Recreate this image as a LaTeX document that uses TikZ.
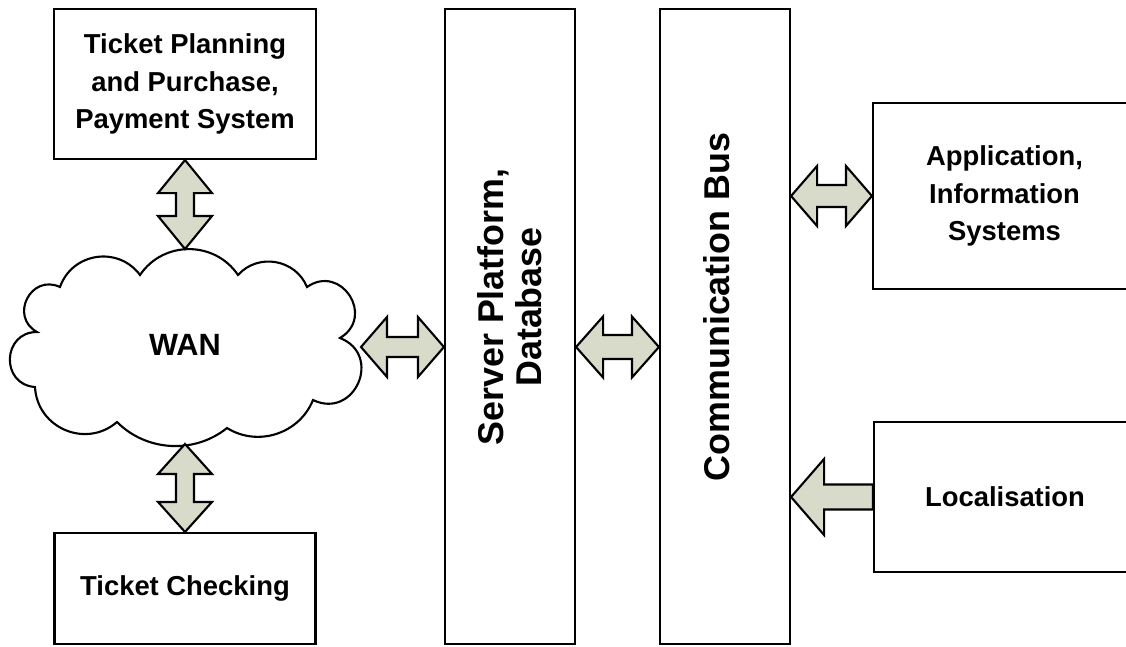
\documentclass[tikz,border=0pt]{standalone}
\usepackage{fontspec}
\setmainfont{Liberation Sans}
\usetikzlibrary{calc}

\definecolor{arrowfill}{RGB}{216,219,202}
\def\px{0.02cm}

% block arrow with two heads, horizontal: left tip, right tip, head half-width, shaft half-width, head length
\newcommand\dblarrowH[5]{%
  \draw[blk] (#1) -- ($(#1)+(#5,-#3)$) -- ($(#1)+(#5,-#4)$) -- ($(#2)+(-#5,-#4)$)
    -- ($(#2)+(-#5,-#3)$) -- (#2) -- ($(#2)+(-#5,#3)$) -- ($(#2)+(-#5,#4)$)
    -- ($(#1)+(#5,#4)$) -- ($(#1)+(#5,#3)$) -- cycle;}
% block arrow with two heads, vertical: top tip, bottom tip, head half-width, shaft half-width, head length
\newcommand\dblarrowV[5]{%
  \draw[blk] (#1) -- ($(#1)+(#3,#5)$) -- ($(#1)+(#4,#5)$) -- ($(#2)+(#4,-#5)$)
    -- ($(#2)+(#3,-#5)$) -- (#2) -- ($(#2)+(-#3,-#5)$) -- ($(#2)+(-#4,-#5)$)
    -- ($(#1)+(-#4,#5)$) -- ($(#1)+(-#3,#5)$) -- cycle;}

\tikzset{
  box/.style={draw, line width=1.2pt, inner sep=0pt, align=center,
    font=\fontsize{15.6}{21.3}\selectfont\bfseries},
  blk/.style={draw, line width=1.2pt, fill=arrowfill, line join=miter},
  vlbl/.style={rotate=90, align=center, inner sep=0pt,
    font=\fontsize{20.4}{21.5}\selectfont\bfseries},
  % one round lobe of the cloud outline: bend angle and matching looseness
  puff/.style 2 args={bend left=#1, looseness=#2},
}

\begin{document}
\begin{tikzpicture}[x=0.02cm, y=-0.02cm]
\useasboundingbox (0,0) rectangle (1126,646);

% left column boxes
\node[box, minimum width=262*\px, minimum height=150*\px] (tp) at (185,84)
  {Ticket Planning\\and Purchase,\\Payment System};
\node[box, minimum width=261*\px, minimum height=111*\px] (tc) at (185,588.5)
  {Ticket Checking};

% central columns
\node[box, minimum width=130*\px, minimum height=635*\px] (srv) at (510,326.5) {};
\node[box, minimum width=130*\px, minimum height=635*\px] (bus) at (725,326.5) {};
\node[vlbl] (srvtxt) at (510,307) {Server Platform,\\Database};
\node[vlbl] (bustxt) at (717,307) {Communication Bus};

% right boxes
\node[box, minimum width=263*\px, minimum height=186*\px] (app) at (1004.5,196)
  {Application,\\Information\\Systems};
\node[box, minimum width=262*\px, minimum height=150*\px] (loc) at (1005,497)
  {Localisation};

% WAN cloud
\draw[line width=1.2pt, fill=white]
  (140,275) to[puff={56}{1.09}] (238,275)
            to[puff={58}{1.10}] (307,287)
            to[puff={92}{1.75}] (340,338)
            to[puff={92}{1.75}] (313,400)
            to[puff={50}{1.03}] (227,428)
            to[puff={42}{0.97}] (117,422)
            to[puff={64}{1.18}] (35,387)
            to[puff={88}{1.62}] (37,332)
            to[puff={88}{1.62}] (60,287)
            to[puff={62}{1.16}] cycle;
\node[font=\fontsize{17.5}{20}\selectfont\bfseries] (wan) at (185,345) {WAN};
\coordinate (ct) at (185,249);
\coordinate (cb) at (185,444);
\coordinate (cr) at (361,347);

% connection points on the columns
\coordinate (sl) at (srv.west |- cr);
\coordinate (sr) at (srv.east |- cr);
\coordinate (bl) at (bus.west |- cr);
\coordinate (ba) at (bus.east |- app.west);
\coordinate (bo) at (bus.east |- loc.west);

% block arrows
\dblarrowV{tp.south}{ct}{27}{9}{33}
\dblarrowV{cb}{tc.north}{27}{9}{30}
\dblarrowH{cr}{sl}{30}{10}{26}
\dblarrowH{sr}{bl}{30.5}{12}{27}
\dblarrowH{ba}{app.west}{30}{11}{26}
\draw[blk] (bo) -- ($(bo)+(33,-38)$) -- ($(bo)+(33,-12.5)$) -- ($(loc.west)+(0,-12.5)$)
  -- ($(loc.west)+(0,12.5)$) -- ($(bo)+(33,12.5)$) -- ($(bo)+(33,38)$) -- cycle;
\end{tikzpicture}
\end{document}
